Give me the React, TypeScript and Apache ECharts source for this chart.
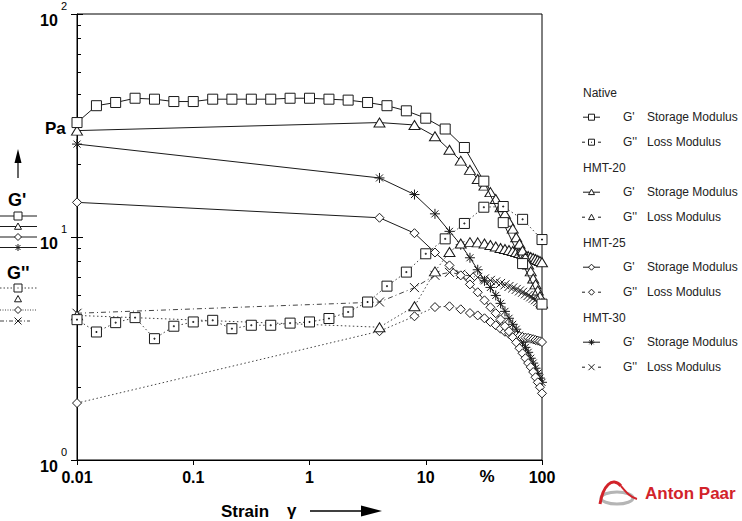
import React, { useEffect, useRef } from 'react';
import * as echarts from 'echarts';

// ---- data (strain in %, moduli in Pa) ----
const nativeStrain = [0.01, 0.0147, 0.0215, 0.0316, 0.0464, 0.0681, 0.1, 0.147, 0.215, 0.316, 0.464, 0.681, 1, 1.47, 2.15, 3.16, 4.64, 6.81, 10, 14.7, 21.5, 31.6, 46.4, 68.1, 100];
const hmtStrain = [0.01, 4, 8, 12, 16, 20, 24, 28, 32, 36, 40, 44, 48, 52, 56, 60, 64, 68, 72, 76, 80, 84, 88, 92, 96, 100];

const nativeStorage = [32.6, 38.8, 40.1, 41.9, 41.5, 40.5, 40.5, 41.5, 41.5, 41.5, 41.5, 41.9, 41.9, 41.5, 41.1, 40.1, 38.8, 36.8, 34.1, 30.5, 25.2, 17.8, 11.6, 7.6, 5.0];
const nativeLoss = [4.26, 3.75, 4.13, 4.35, 3.5, 3.98, 4.16, 4.23, 3.88, 4.02, 4.02, 4.11, 4.16, 4.31, 4.61, 5.11, 6.02, 6.96, 8.41, 9.81, 11.5, 13.6, 13.7, 12.0, 9.74];

const hmt20Storage = [30.0, 32.6, 31.8, 28.3, 24.6, 22.0, 20.0, 18.2, 17.0, 15.9, 14.8, 13.6, 12.7, 11.7, 10.9, 9.98, 9.32, 8.7, 8.09, 7.53, 7.01, 6.52, 6.13, 5.76, 5.42, 5.04];
const hmt20Loss = [4.45, 3.94, 4.89, 7.01, 8.57, 9.35, 9.48, 9.46, 9.35, 9.21, 9.07, 8.93, 8.84, 8.75, 8.66, 8.57, 8.48, 8.39, 8.31, 8.22, 8.14, 8.05, 7.97, 7.89, 7.81, 7.71];

const hmt25Storage = [14.3, 12.2, 10.4, 8.52, 7.46, 6.73, 6.13, 5.65, 5.2, 4.84, 4.55, 4.27, 3.98, 3.78, 3.55, 3.37, 3.17, 3.01, 2.86, 2.72, 2.61, 2.48, 2.35, 2.23, 2.12, 1.99];
const hmt25Loss = [1.8, 3.78, 4.41, 4.85, 4.89, 4.74, 4.56, 4.45, 4.32, 4.16, 4.02, 3.88, 3.76, 3.68, 3.64, 3.61, 3.59, 3.56, 3.54, 3.53, 3.5, 3.48, 3.45, 3.43, 3.41, 3.38];

const hmt30Storage = [26.1, 18.4, 15.5, 12.7, 10.6, 9.23, 8.07, 7.13, 6.36, 5.94, 5.47, 5.04, 4.64, 4.32, 4.06, 3.86, 3.63, 3.37, 3.2, 3.04, 2.86, 2.72, 2.58, 2.45, 2.33, 2.23];
const hmt30Loss = [4.55, 5.11, 5.93, 6.73, 6.94, 6.8, 6.69, 6.59, 6.49, 6.39, 6.29, 6.19, 6.1, 6.0, 5.91, 5.82, 5.73, 5.65, 5.56, 5.47, 5.39, 5.31, 5.23, 5.14, 5.09, 5.01];

const xTickLabels = ['0.01', '0.1', '1', '10', '100'];
const yTickExponents = ['0', '1', '2'];
const groupNames = ['Native', 'HMT-20', 'HMT-25', 'HMT-30'];

const FONT = '"Liberation Sans", Arial, sans-serif';
const INK = '#1a1a1a';
const DOT_GRAY = '#444';

const SYM_SQ = 'rect';
const SYM_SQ_DOT = 'path://M0,0H10V10H0Z M4.5,4.5H5.5V5.5H4.5Z';
const SYM_TRI = 'triangle';
const SYM_DIA = 'diamond';
const SYM_STAR = 'path://M0,5H10M5,0V10M1.5,1.5L8.5,8.5M8.5,1.5L1.5,8.5';
const SYM_X = 'path://M0,0L10,10M10,0L0,10';

function mkSeries(name: string, xs: number[], ys: number[], symbol: string, size: any, lineType: any, lineColor: string, z: number) {
  return {
    type: 'line',
    name,
    data: xs.map((x, i) => [x, ys[i]]),
    symbol,
    symbolSize: size,
    showAllSymbol: true,
    lineStyle: { color: lineColor, width: 1, type: lineType },
    itemStyle: { color: '#fff', borderColor: INK, borderWidth: 1 },
    emphasis: { disabled: true },
    z,
  };
}

// ---- graphic symbol helpers (legends) ----
function gSymbol(kind: string, cx: number, cy: number, s: number): any[] {
  const st = { fill: '#fff', stroke: INK, lineWidth: 1 };
  const h = s / 2;
  if (kind === 'sq' || kind === 'sqdot') {
    const out: any[] = [{ type: 'rect', shape: { x: cx - h, y: cy - h, width: s, height: s }, style: st, z: 20 }];
    if (kind === 'sqdot') out.push({ type: 'rect', shape: { x: cx - 0.5, y: cy - 0.5, width: 1, height: 1 }, style: { fill: INK }, z: 21 });
    return out;
  }
  if (kind === 'tri') {
    return [{ type: 'polygon', shape: { points: [[cx, cy - h], [cx + h, cy + h * 0.8], [cx - h, cy + h * 0.8]] }, style: st, z: 20 }];
  }
  if (kind === 'dia') {
    return [{ type: 'polygon', shape: { points: [[cx, cy - h], [cx + h, cy], [cx, cy + h], [cx - h, cy]] }, style: st, z: 20 }];
  }
  if (kind === 'star') {
    const ls = { stroke: INK, lineWidth: 1 };
    return [
      { type: 'line', shape: { x1: cx - h, y1: cy, x2: cx + h, y2: cy }, style: ls, z: 20 },
      { type: 'line', shape: { x1: cx, y1: cy - h, x2: cx, y2: cy + h }, style: ls, z: 20 },
      { type: 'line', shape: { x1: cx - h * 0.7, y1: cy - h * 0.7, x2: cx + h * 0.7, y2: cy + h * 0.7 }, style: ls, z: 20 },
      { type: 'line', shape: { x1: cx + h * 0.7, y1: cy - h * 0.7, x2: cx - h * 0.7, y2: cy + h * 0.7 }, style: ls, z: 20 },
    ];
  }
  const ls = { stroke: INK, lineWidth: 1 };
  return [
    { type: 'line', shape: { x1: cx - h, y1: cy - h, x2: cx + h, y2: cy + h }, style: ls, z: 20 },
    { type: 'line', shape: { x1: cx + h, y1: cy - h, x2: cx - h, y2: cy + h }, style: ls, z: 20 },
  ];
}

function gLine(x1: number, x2: number, y: number, dash: any): any {
  return { type: 'line', shape: { x1, y1: y, x2, y2: y }, style: { stroke: dash ? DOT_GRAY : INK, lineWidth: 1, lineDash: dash || null }, z: 15 };
}

function buildGraphics(): any[] {
  const g: any[] = [];
  const txt = (x: number, y: number, text: string, size: number, bold: boolean, color = '#000', align = 'left') => ({
    type: 'text', x, y, z: 30,
    style: { text, fontFamily: FONT, fontSize: size, fontWeight: bold ? 'bold' : 'normal', fill: color, align, verticalAlign: 'middle' },
  });

  // ---- left side legend ----
  g.push(txt(45, 128, 'Pa', 17, true));
  g.push({ type: 'line', shape: { x1: 18, y1: 178, x2: 18, y2: 158 }, style: { stroke: '#000', lineWidth: 1.2 }, z: 20 });
  g.push({ type: 'polygon', shape: { points: [[14.5, 163], [18, 149], [21.5, 163]] }, style: { fill: '#000' }, z: 20 });
  g.push(txt(8, 200, "G'", 18, true));
  const leftG1 = [['sq', 216], ['tri', 226.5], ['dia', 237], ['star', 247.5]];
  leftG1.forEach(([k, y]: any) => {
    g.push(gLine(0, 37, y, null));
    g.push(...gSymbol(k, 18, y, k === 'sq' ? 8 : 7));
  });
  g.push(txt(7, 273, "G''", 18, true));
  g.push(gLine(0, 37, 288, [1.5, 2]));
  g.push(...gSymbol('sqdot', 18, 288, 8));
  g.push(...gSymbol('tri', 18, 299, 7));
  g.push(gLine(0, 37, 310, [1, 1.5]));
  g.push(...gSymbol('dia', 18, 310, 7));
  g.push(gLine(0, 30, 321, [4, 2, 1, 2]));
  g.push(...gSymbol('x', 18, 321, 7));

  // ---- right legend ----
  const kinds = [['sq', 'sqdot'], ['tri', 'tri'], ['dia', 'dia'], ['star', 'x']];
  groupNames.forEach((name, gi) => {
    const y0 = 92.7 + gi * 75;
    g.push(txt(583, y0, name, 12, false, '#222'));
    const [k1, k2] = kinds[gi];
    const y1 = y0 + 24.5;
    g.push(gLine(583, 600, y1, null));
    g.push(...gSymbol(k1, 591.5, y1, 6));
    g.push(txt(623, y1, "G'", 12, false, '#222'));
    g.push(txt(647, y1, 'Storage Modulus', 12, false, '#222'));
    const y2 = y0 + 49.5;
    g.push(gLine(582, 585, y2, null));
    g.push(gLine(598, 601, y2, null));
    g.push(...gSymbol(k2, 591.5, y2, 6));
    g.push(txt(623, y2, "G''", 12, false, '#222'));
    g.push(txt(647, y2, 'Loss Modulus', 12, false, '#222'));
  });

  // ---- x axis extras ----
  g.push(txt(487, 476, '%', 17, true, '#000', 'center'));
  g.push(txt(221, 511, 'Strain', 17, true));
  g.push(txt(287, 510, 'γ', 17, true));
  g.push({ type: 'line', shape: { x1: 310, y1: 511, x2: 364, y2: 511 }, style: { stroke: '#000', lineWidth: 1.5 }, z: 20 });
  g.push({ type: 'polygon', shape: { points: [[361, 505.5], [382, 511], [361, 516.5]] }, style: { fill: '#000' }, z: 20 });

  // ---- logo ----
  g.push({ type: 'ellipse', shape: { cx: 617, cy: 498, rx: 16, ry: 6 }, style: { fill: 'none', stroke: '#b5b5b5', lineWidth: 3 }, z: 20 });
  g.push({ type: 'bezierCurve', shape: { x1: 600, y1: 504, cpx1: 603, cpy1: 486, cpx2: 612, cpy2: 476, x2: 621, y2: 486 }, style: { stroke: '#d2232a', lineWidth: 3, fill: 'none' }, z: 21 });
  g.push({ type: 'bezierCurve', shape: { x1: 621, y1: 486, cpx1: 626, cpy1: 492, cpx2: 630, cpy2: 497, x2: 637, y2: 499 }, style: { stroke: '#d2232a', lineWidth: 2, fill: 'none' }, z: 21 });
  g.push(txt(645, 493, 'Anton Paar', 17, true, '#d2232a'));
  return g;
}

export default function App() {
  const ref = useRef<HTMLDivElement>(null);
  useEffect(() => {
    if (!ref.current) return;
    const chart = echarts.init(ref.current, null, { renderer: 'svg' });
    const solid = 'solid';
    const dotted = [1.5, 2.5];
    const dashDot = [5, 3, 1, 3];
    chart.setOption({
      animation: false,
      backgroundColor: '#fff',
      grid: { left: 77, right: 200, top: 13, bottom: 61, show: true, borderColor: '#000', borderWidth: 1 },
      xAxis: {
        type: 'log', logBase: 10, min: 0.01, max: 100,
        axisLine: { lineStyle: { color: '#000', width: 1 } },
        axisTick: { show: true, length: 5, lineStyle: { color: '#000' } },
        splitLine: { show: false },
        axisLabel: {
          formatter: (_v: number, i: number) => xTickLabels[i] ?? '',
          fontFamily: FONT, fontSize: 16, fontWeight: 'bold', color: '#000', margin: 9,
        },
      },
      yAxis: [
        {
          type: 'log', logBase: 10, min: 1, max: 100,
          axisLine: { lineStyle: { color: '#000', width: 1 } },
          axisTick: { show: true, inside: true, length: 6, lineStyle: { color: '#000' } },
          minorTick: { show: true, splitNumber: 8, length: 4, lineStyle: { color: '#000' } },
          splitLine: { show: false },
          axisLabel: {
            formatter: (_v: number, i: number) => `{b|10}{s|${yTickExponents[i] ?? ''}}`,
            margin: 10,
            rich: {
              b: { fontFamily: FONT, fontSize: 16, fontWeight: 'bold', color: '#000', padding: [12, 0, 0, 0] },
              s: { fontFamily: FONT, fontSize: 11, color: '#000', verticalAlign: 'top', padding: [0, 0, 0, 3] },
            },
          },
        },
        {
          type: 'log', logBase: 10, min: 1, max: 100, position: 'left',
          axisLine: { show: false },
          axisTick: { show: true, inside: false, length: 6, lineStyle: { color: '#000' } },
          axisLabel: { show: false },
          splitLine: { show: false },
        },
      ],
      series: [
        mkSeries('Native G\'', nativeStrain, nativeStorage, SYM_SQ, 10, solid, INK, 10),
        mkSeries('Native G\'\'', nativeStrain, nativeLoss, SYM_SQ_DOT, 10, dotted, DOT_GRAY, 9),
        mkSeries('HMT-20 G\'', hmtStrain, hmt20Storage, SYM_TRI, [11, 9], solid, INK, 8),
        mkSeries('HMT-20 G\'\'', hmtStrain, hmt20Loss, SYM_TRI, [11, 9], dotted, DOT_GRAY, 7),
        mkSeries('HMT-25 G\'', hmtStrain, hmt25Storage, SYM_DIA, 9, solid, INK, 6),
        mkSeries('HMT-25 G\'\'', hmtStrain, hmt25Loss, SYM_DIA, 9, dotted, DOT_GRAY, 5),
        mkSeries('HMT-30 G\'', hmtStrain, hmt30Storage, SYM_STAR, 10, solid, INK, 4),
        mkSeries('HMT-30 G\'\'', hmtStrain, hmt30Loss, SYM_X, 9, dashDot, DOT_GRAY, 3),
      ],
      graphic: buildGraphics(),
    });
    return () => chart.dispose();
  }, []);
  return <div ref={ref} style={{ position: 'absolute', left: 0, top: 0, width: 742, height: 521 }} />;
}
